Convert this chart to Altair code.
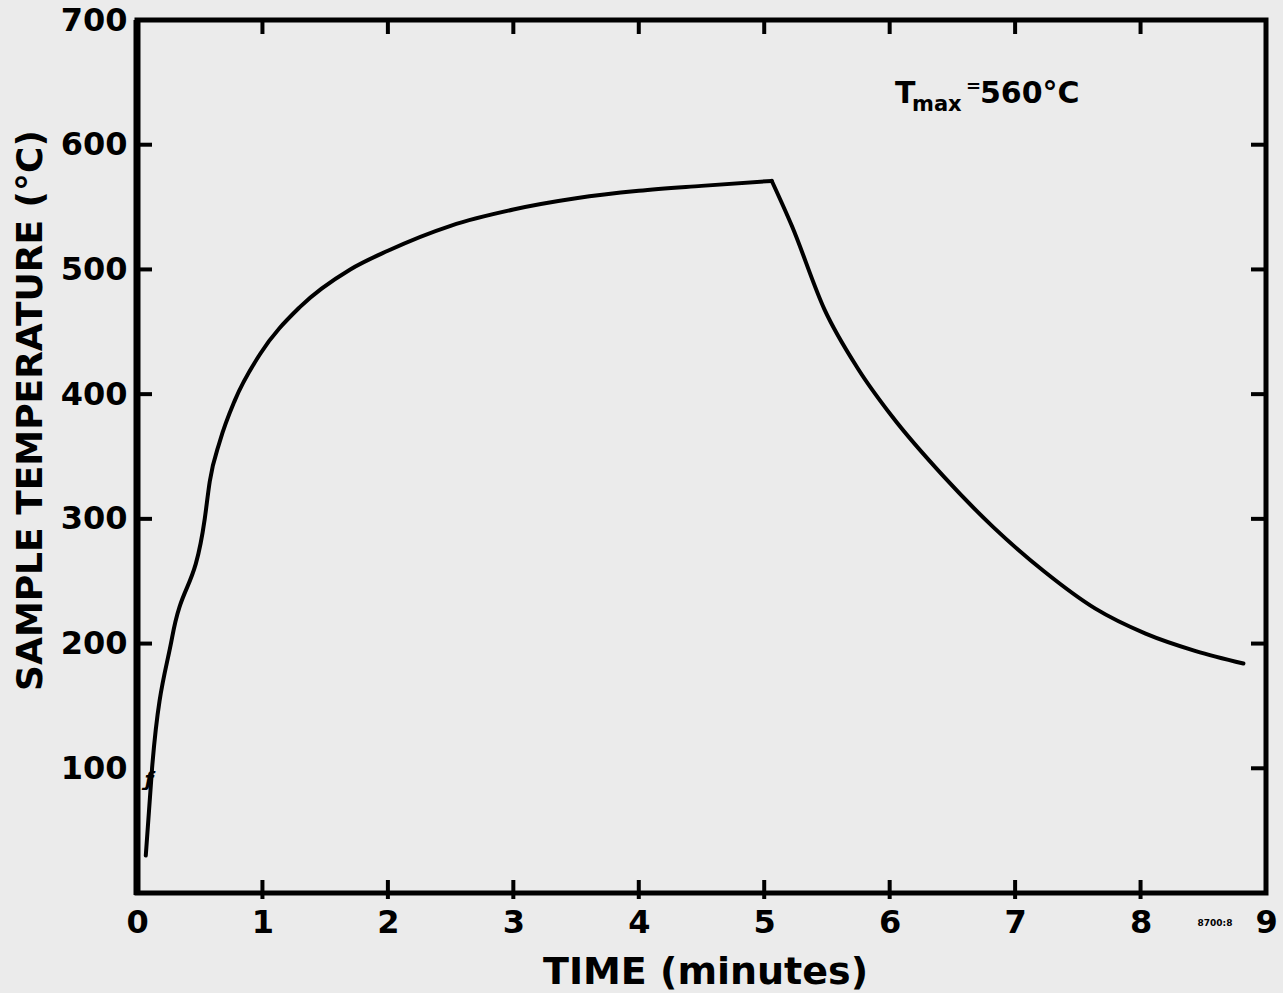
import altair as alt
import pandas as pd

# Data: heating segment then cooling segment
heat_time = [0.07, 0.12, 0.28, 0.54, 0.58, 0.66, 0.78, 0.98, 1.30, 1.70, 2.0, 2.5,
             3.0, 3.5, 4.0, 4.5, 5.06]
heat_temp = [30, 100, 205, 300, 330, 362, 395, 432, 470, 500, 515, 535,
             548, 557, 563, 567, 571]
cool_time = [5.06, 5.22, 5.48, 5.75, 6.02, 6.43, 6.83, 7.23, 7.64, 8.04, 8.44, 8.82]
cool_temp = [571, 535, 468, 420, 382, 334, 293, 258, 228, 208, 194, 184]

x_tick_labels = [0, 1, 2, 3, 4, 5, 6, 7, 8, 9]
y_tick_labels = [100, 200, 300, 400, 500, 600, 700]
x_inner_ticks = [1, 2, 3, 4, 5, 6, 7, 8]
y_inner_ticks = [200, 300, 400, 500, 600]
y_right_ticks = [100, 200, 300, 400, 500, 600]

W, H = 1129, 873
BG = "#ebebeb"
FONT = "DejaVu Sans"

xscale = alt.Scale(domain=[0, 9], nice=False, zero=False)
yscale = alt.Scale(domain=[0, 700], nice=False, zero=False)

xaxis = alt.Axis(
    values=x_tick_labels, tickSize=0, domain=False, grid=False,
    labelFont=FONT, labelFontSize=32, labelFontWeight="bold", labelColor="black",
    labelPadding=14, labelFlush=False, labelOverlap=False, labelBound=False,
    title="TIME (minutes)", titleFont=FONT, titleFontSize=38, titleFontWeight="bold",
    titleColor="black", titleX=568, titleY=79, titleAlign="center",
    titleBaseline="middle")
yaxis = alt.Axis(
    values=y_tick_labels, tickSize=0, domain=False, grid=False,
    labelFont=FONT, labelFontSize=32, labelFontWeight="bold", labelColor="black",
    labelPadding=10, labelFlush=False, labelOverlap=False, labelBound=False,
    title="SAMPLE TEMPERATURE (°C)", titleFont=FONT, titleFontSize=36,
    titleFontWeight="bold", titleColor="black", titleX=-107, titleY=390,
    titleAlign="center", titleBaseline="middle")

curve = pd.DataFrame({
    "time": heat_time + cool_time,
    "temp": heat_temp + cool_temp,
    "seg": ["heat"] * len(heat_time) + ["cool"] * len(cool_time),
})

line = alt.Chart(curve).mark_line(
    color="black", strokeWidth=4, interpolate="monotone", strokeCap="round",
    strokeJoin="miter"
).encode(
    x=alt.X("time:Q", scale=xscale, axis=xaxis),
    y=alt.Y("temp:Q", scale=yscale, axis=yaxis),
    detail="seg:N",
)

left_ticks = alt.Chart(pd.DataFrame({"temp": y_inner_ticks})).mark_rule(
    color="black", strokeWidth=4).encode(
    y=alt.Y("temp:Q", scale=yscale, axis=yaxis), x=alt.value(0), x2=alt.value(15))

right_ticks = alt.Chart(pd.DataFrame({"temp": y_right_ticks})).mark_rule(
    color="black", strokeWidth=4).encode(
    y=alt.Y("temp:Q", scale=yscale, axis=yaxis), x=alt.value(W - 15), x2=alt.value(W))

bottom_ticks = alt.Chart(pd.DataFrame({"time": x_inner_ticks})).mark_rule(
    color="black", strokeWidth=4).encode(
    x=alt.X("time:Q", scale=xscale, axis=xaxis), y=alt.value(H - 13), y2=alt.value(H + 6))

top_ticks = alt.Chart(pd.DataFrame({"time": x_inner_ticks})).mark_rule(
    color="black", strokeWidth=4).encode(
    x=alt.X("time:Q", scale=xscale, axis=xaxis), y=alt.value(0), y2=alt.value(14))

left_edge = alt.Chart(pd.DataFrame({"temp": [700]})).mark_rule(
    color="black", strokeWidth=7).encode(
    x=alt.value(0), y=alt.value(0), y2=alt.value(H + 2))

def txt(s, x, y, size, align="left", style="normal", baseline="alphabetic"):
    return alt.Chart(pd.DataFrame({"s": [s]})).mark_text(
        font=FONT, fontSize=size, fontWeight="bold", fontStyle=style, color="black",
        align=align, baseline=baseline).encode(
        text="s:N", x=alt.value(x), y=alt.value(y))

ann_T = txt("T", 758, 83, 30)
ann_max = txt("max", 775, 91, 21)
ann_eq = txt("=", 829, 72, 18)
ann_val = txt("560°C", 843, 83, 30)
brk = txt("ƒ", 12, 760, 20, align="center", style="italic", baseline="middle")
fig_no = txt("8700:8", 1078, 903, 9, align="center", baseline="middle")

chart = alt.layer(
    line, left_ticks, right_ticks, bottom_ticks, top_ticks, left_edge,
    ann_T, ann_max, ann_eq, ann_val, brk, fig_no
).properties(
    width=W, height=H, background=BG,
    padding={"left": 137, "top": 20, "right": 17, "bottom": 100},
    autosize=alt.AutoSizeParams(type="none"),
).configure_view(stroke="black", strokeWidth=5, fill=BG)

chart.save("out.html", embed_options={"renderer": "svg", "actions": False})
